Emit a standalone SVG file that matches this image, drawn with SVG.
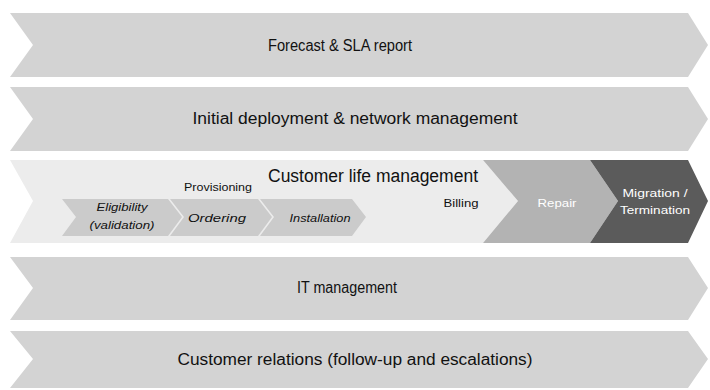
<svg xmlns="http://www.w3.org/2000/svg" width="710" height="390" viewBox="0 0 710 390">
<style>
.band{fill:#d3d3d3}
.light{fill:#ececec}
.sub{fill:#cbcbcb}
.repair{fill:#b3b3b3}
.mig{fill:#5b5b5b}
text{font-family:"Liberation Sans",Arial,sans-serif;fill:#111;text-anchor:middle}
.t{font-size:16px}
.h{font-size:18px}
.s{font-size:11.5px}
.i{font-size:11.5px;font-style:italic}
.w{fill:#ffffff}
</style>
<rect width="710" height="390" fill="#ffffff"/>
<g id="forecast">
<polygon class="band" points="10,13 688,13 708,45 688,77 10,77 33,45"/>
<text class="t" x="340" y="51" textLength="144" lengthAdjust="spacingAndGlyphs">Forecast &amp; SLA report</text>
</g>
<g id="deployment">
<polygon class="band" points="10,87 688,87 708,119 688,151 10,151 33,119"/>
<text class="t" x="355" y="124" textLength="325" lengthAdjust="spacingAndGlyphs">Initial deployment &amp; network management</text>
</g>
<g id="customer-life">
<polygon class="light" points="10,160 483,160 518,201 483,243 10,243 33,201"/>
<text class="h" x="373" y="182" textLength="210" lengthAdjust="spacingAndGlyphs">Customer life management</text>
<text class="s" x="218" y="191" textLength="68" lengthAdjust="spacingAndGlyphs">Provisioning</text>
<text class="s" x="461" y="207" textLength="35" lengthAdjust="spacingAndGlyphs">Billing</text>
</g>
<g id="eligibility">
<polygon class="sub" points="62,199 168,199 182,217 168,236 62,236 76,217"/>
<text class="i" x="122" y="211" textLength="51" lengthAdjust="spacingAndGlyphs">Eligibility</text>
<text class="i" x="122" y="229" textLength="65" lengthAdjust="spacingAndGlyphs">(validation)</text>
</g>
<g id="ordering">
<polygon class="sub" points="170,199 258,199 272,217 258,236 170,236 184,217"/>
<text class="i" x="217" y="222" textLength="58" lengthAdjust="spacingAndGlyphs">Ordering</text>
</g>
<g id="installation">
<polygon class="sub" points="260,199 352,199 366,217 352,236 260,236 274,217"/>
<text class="i" x="320" y="222" textLength="61" lengthAdjust="spacingAndGlyphs">Installation</text>
</g>
<g id="repair">
<polygon class="repair" points="483,160 590,160 618,201 590,243 483,243 518,201"/>
<text class="s w" x="557" y="207" textLength="39" lengthAdjust="spacingAndGlyphs">Repair</text>
</g>
<g id="migration">
<polygon class="mig" points="590,160 688,160 708,201 688,243 590,243 618,201"/>
<text class="s w" x="655" y="197" textLength="65" lengthAdjust="spacingAndGlyphs">Migration /</text>
<text class="s w" x="655" y="214" textLength="70" lengthAdjust="spacingAndGlyphs">Termination</text>
</g>
<g id="it">
<polygon class="band" points="10,257 688,257 708,288 688,320 10,320 33,288"/>
<text class="t" x="347" y="293" textLength="100" lengthAdjust="spacingAndGlyphs">IT management</text>
</g>
<g id="relations">
<polygon class="band" points="10,331 688,331 708,359 688,388 10,388 33,359"/>
<text class="t" x="355" y="365" textLength="355" lengthAdjust="spacingAndGlyphs">Customer relations (follow-up and escalations)</text>
</g>
<g id="connectors"></g>
</svg>
